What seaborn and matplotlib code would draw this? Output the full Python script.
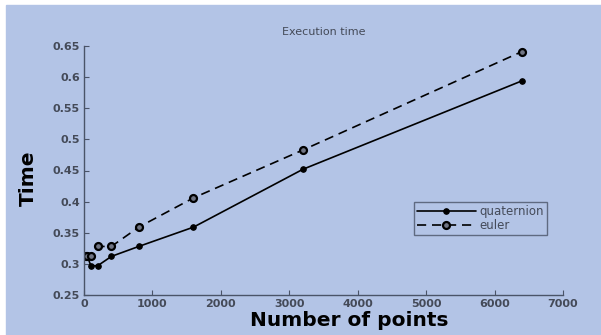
import matplotlib
matplotlib.use("Agg")
import matplotlib.pyplot as plt
from matplotlib.patches import Rectangle
from matplotlib.ticker import FuncFormatter
import seaborn as sns

# ----------------------------------
# Data
# ----------------------------------
n_points = [25, 50, 100, 200, 400, 800, 1600, 3200, 6400]
quaternion_time = [0.312, 0.312, 0.297, 0.297, 0.312, 0.328, 0.359, 0.452, 0.594]
euler_time = [0.312, 0.312, 0.312, 0.328, 0.328, 0.359, 0.406, 0.483, 0.641]

x_ticks = [0, 1000, 2000, 3000, 4000, 5000, 6000, 7000]
y_ticks = [0.25, 0.3, 0.35, 0.4, 0.45, 0.5, 0.55, 0.6, 0.65]

BG = "#b3c4e6"
AXC = "#4a5468"
TXT = "#444a58"

sns.set_style("ticks", {"axes.facecolor": BG, "axes.edgecolor": AXC})
plt.rcParams["font.family"] = ["DejaVu Sans"]

fig = plt.figure(figsize=(6.01, 3.35), dpi=100, facecolor="white")
# blue backdrop with a thin white margin at top/left, as in the screenshot
fig.add_artist(Rectangle((6 / 601, 0), 1, 1 - 5 / 335,
                         transform=fig.transFigure, color=BG, zorder=-1))

ax = fig.add_axes([84 / 601, 40 / 335, 479 / 601, 249 / 335])
ax.set_facecolor(BG)

sns.lineplot(x=n_points, y=quaternion_time, ax=ax, color="black", lw=1.2,
             marker="o", markersize=4, markerfacecolor="black",
             markeredgecolor="black", label="quaternion")
sns.lineplot(x=n_points, y=euler_time, ax=ax, color="black", lw=1.2,
             marker="o", markersize=5, markerfacecolor="#707584",
             markeredgecolor="black", markeredgewidth=1.6, label="euler")
ax.lines[1].set_dashes((5.5, 3.5))

ax.set_xlim(0, 7000)
ax.set_ylim(0.25, 0.65)
ax.set_xticks(x_ticks)
ax.set_yticks(y_ticks)
ax.yaxis.set_major_formatter(FuncFormatter(lambda v, p: f"{v:g}"))
ax.tick_params(direction="in", length=3.5, width=0.8, colors=AXC,
               labelcolor=TXT, labelsize=8, pad=3)
for lbl in ax.get_xticklabels() + ax.get_yticklabels():
    lbl.set_fontweight("bold")
sns.despine(ax=ax)
for s in ("left", "bottom"):
    ax.spines[s].set_linewidth(1.0)

ax.set_title("Execution time", fontsize=8, color=TXT, pad=8)
ax.set_xlabel("Number of points", fontsize=14.5, fontweight="bold",
              color="black")
ax.xaxis.set_label_coords(0.553, -0.066)
ax.set_ylabel("Time", fontsize=14.5, fontweight="bold", color="black")
ax.yaxis.set_label_coords(-0.097, 0.47)

leg = ax.legend(loc="upper left", bbox_to_anchor=(0.689, 0.373),
                fontsize=8.5, frameon=True, fancybox=False, handlelength=5.0,
                handletextpad=0.3, borderpad=0.25, labelspacing=0.1,
                borderaxespad=0)
leg.get_frame().set_facecolor(BG)
leg.get_frame().set_edgecolor(AXC)
leg.get_frame().set_linewidth(1.0)
for t in leg.get_texts():
    t.set_color(TXT)

fig.savefig("out.png", dpi=100, facecolor="white")
